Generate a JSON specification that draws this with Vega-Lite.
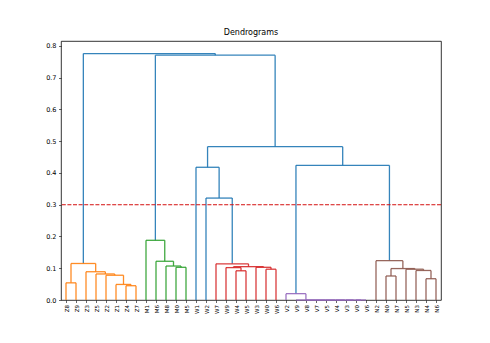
{
  "$schema": "https://vega.github.io/schema/vega-lite/v6.json",
  "width": 380,
  "height": 259,
  "autosize": {"type": "none"},
  "padding": {"left": 61, "top": 41, "right": 49, "bottom": 43},
  "background": "white",
  "title": {"text": "Dendrograms", "fontSize": 8, "fontWeight": "normal", "font": "DejaVu Sans", "color": "#000", "offset": 4},
  "config": {
    "view": {"stroke": "#000", "strokeWidth": 0.8},
    "axis": {"grid": false, "domain": false, "labelFont": "DejaVu Sans", "labelColor": "#000", "tickColor": "#000", "tickSize": 2.5, "tickWidth": 0.6, "title": null, "labelOverlap": false}
  },
  "data": {"values": [
    {"xl": 5, "yl": 0, "xr": 15, "yr": 0, "h": 0.054, "c": "Z"},
    {"xl": 65, "yl": 0, "xr": 75, "yr": 0, "h": 0.045, "c": "Z"},
    {"xl": 55, "yl": 0, "xr": 70, "yr": 0.045, "h": 0.049, "c": "Z"},
    {"xl": 45, "yl": 0, "xr": 62.5, "yr": 0.049, "h": 0.078, "c": "Z"},
    {"xl": 35, "yl": 0, "xr": 53.75, "yr": 0.078, "h": 0.082, "c": "Z"},
    {"xl": 25, "yl": 0, "xr": 44.375, "yr": 0.082, "h": 0.089, "c": "Z"},
    {"xl": 10, "yl": 0.054, "xr": 34.6875, "yr": 0.089, "h": 0.115, "c": "Z"},
    {"xl": 115, "yl": 0, "xr": 125, "yr": 0, "h": 0.103, "c": "M"},
    {"xl": 105, "yl": 0, "xr": 120, "yr": 0.103, "h": 0.107, "c": "M"},
    {"xl": 95, "yl": 0, "xr": 112.5, "yr": 0.107, "h": 0.122, "c": "M"},
    {"xl": 85, "yl": 0, "xr": 103.75, "yr": 0.122, "h": 0.188, "c": "M"},
    {"xl": 175, "yl": 0, "xr": 185, "yr": 0, "h": 0.092, "c": "W"},
    {"xl": 165, "yl": 0, "xr": 180, "yr": 0.092, "h": 0.102, "c": "W"},
    {"xl": 205, "yl": 0, "xr": 215, "yr": 0, "h": 0.097, "c": "W"},
    {"xl": 195, "yl": 0, "xr": 210, "yr": 0.097, "h": 0.103, "c": "W"},
    {"xl": 172.5, "yl": 0.102, "xr": 202.5, "yr": 0.103, "h": 0.105, "c": "W"},
    {"xl": 155, "yl": 0, "xr": 187.5, "yr": 0.105, "h": 0.114, "c": "W"},
    {"xl": 295, "yl": 0, "xr": 305, "yr": 0, "h": 0, "c": "V"},
    {"xl": 285, "yl": 0, "xr": 300, "yr": 0, "h": 0, "c": "V"},
    {"xl": 275, "yl": 0, "xr": 292.5, "yr": 0, "h": 0, "c": "V"},
    {"xl": 265, "yl": 0, "xr": 283.75, "yr": 0, "h": 0, "c": "V"},
    {"xl": 255, "yl": 0, "xr": 274.375, "yr": 0, "h": 0, "c": "V"},
    {"xl": 245, "yl": 0, "xr": 264.6875, "yr": 0, "h": 0, "c": "V"},
    {"xl": 235, "yl": 0, "xr": 254.84375, "yr": 0, "h": 0, "c": "V"},
    {"xl": 225, "yl": 0, "xr": 244.921875, "yr": 0, "h": 0.02, "c": "V"},
    {"xl": 325, "yl": 0, "xr": 335, "yr": 0, "h": 0.0756, "c": "N"},
    {"xl": 365, "yl": 0, "xr": 375, "yr": 0, "h": 0.067, "c": "N"},
    {"xl": 355, "yl": 0, "xr": 370, "yr": 0.067, "h": 0.093, "c": "N"},
    {"xl": 345, "yl": 0, "xr": 362.5, "yr": 0.093, "h": 0.097, "c": "N"},
    {"xl": 330, "yl": 0.0756, "xr": 353.75, "yr": 0.097, "h": 0.099, "c": "N"},
    {"xl": 315, "yl": 0, "xr": 341.875, "yr": 0.099, "h": 0.124, "c": "N"},
    {"xl": 145, "yl": 0, "xr": 171.25, "yr": 0.114, "h": 0.321, "c": "above"},
    {"xl": 135, "yl": 0, "xr": 158.125, "yr": 0.321, "h": 0.418, "c": "above"},
    {"xl": 234.96, "yl": 0.02, "xr": 328.44, "yr": 0.124, "h": 0.424, "c": "above"},
    {"xl": 146.56, "yl": 0.418, "xr": 281.7, "yr": 0.424, "h": 0.483, "c": "above"},
    {"xl": 94.375, "yl": 0.188, "xr": 214.13, "yr": 0.483, "h": 0.771, "c": "above"},
    {"xl": 22.34, "yl": 0.115, "xr": 154.25, "yr": 0.771, "h": 0.776, "c": "above"}
  ]},
  "layer": [
    {
      "mark": {"type": "rule", "strokeWidth": 1.3, "opacity": 0.9},
      "encoding": {
        "x": {"field": "xl", "type": "quantitative", "scale": {"domain": [0, 380], "nice": false, "zero": false},
          "axis": {"values": [5,15,25,35,45,55,65,75,85,95,105,115,125,135,145,155,165,175,185,195,205,215,225,235,245,255,265,275,285,295,305,315,325,335,345,355,365,375],
            "tickCount": 100, "labelAngle": -90, "labelFontSize": 5.5, "labelPadding": 2, "labelOverlap": false, "labelFlush": false,
            "labelExpr": "['Z8','Z9','Z3','Z5','Z2','Z1','Z4','Z7','M1','M6','M8','M0','M5','W1','W2','W7','W9','W4','W5','W3','W0','W6','V2','V9','V8','V7','V5','V4','V3','V0','V6','N2','N0','N7','N5','N3','N4','N6'][round((datum.value-5)/10)]"}},
        "y": {"field": "yl", "type": "quantitative", "scale": {"domain": [0, 0.8157], "nice": false},
          "axis": {"values": [0,0.1,0.2,0.3,0.4,0.5,0.6,0.7,0.8], "tickCount": 20, "format": ".1f", "labelFontSize": 6.5, "labelPadding": 2.5, "labelOverlap": false, "labelFlush": false}},
        "y2": {"field": "h"},
        "color": {"field": "c", "type": "nominal", "legend": null,
          "scale": {"domain": ["Z", "M", "W", "V", "N", "above"], "range": ["#ff7f0e", "#2ca02c", "#d62728", "#9467bd", "#8c564b", "#1f77b4"]}}
      }
    },
    {
      "mark": {"type": "rule", "strokeWidth": 1.3, "opacity": 0.9},
      "encoding": {
        "x": {"field": "xr", "type": "quantitative"},
        "y": {"field": "yr", "type": "quantitative"},
        "y2": {"field": "h"},
        "color": {"field": "c", "type": "nominal", "legend": null}
      }
    },
    {
      "mark": {"type": "rule", "strokeWidth": 1.3, "opacity": 0.9},
      "encoding": {
        "x": {"field": "xl", "type": "quantitative"},
        "x2": {"field": "xr"},
        "y": {"field": "h", "type": "quantitative"},
        "color": {"field": "c", "type": "nominal", "legend": null}
      }
    },
    {
      "data": {"values": [{"t": 0.3}]},
      "mark": {"type": "rule", "color": "#d41010", "strokeWidth": 1, "strokeDash": [4, 1.6]},
      "encoding": {
        "y": {"field": "t", "type": "quantitative"}
      }
    }
  ]
}
